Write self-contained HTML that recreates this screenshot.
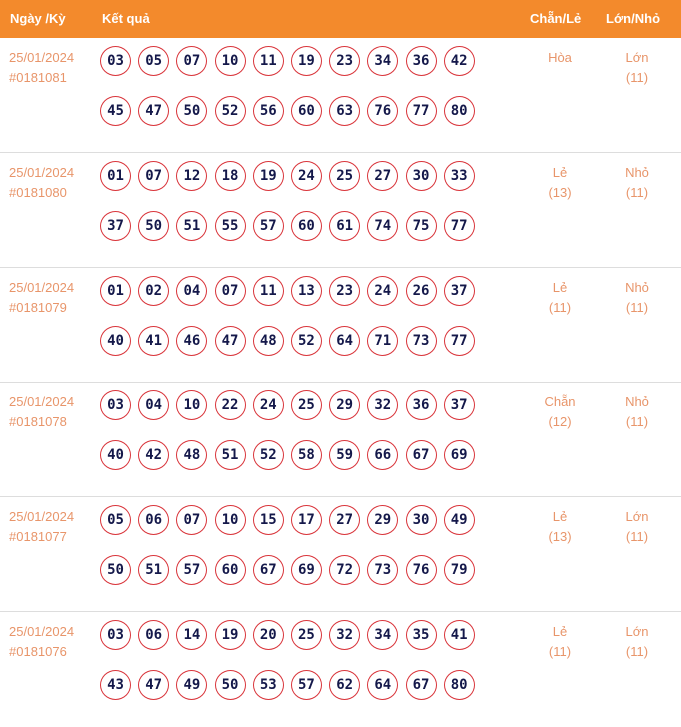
<!DOCTYPE html>
<html><head><meta charset="utf-8"><style>
*{margin:0;padding:0;box-sizing:border-box}
body{width:681px;height:716px;background:#fff;font-family:"Liberation Sans",sans-serif;position:relative;overflow:hidden}
.hd{position:absolute;left:0;top:0;width:681px;height:38px;background:#f38a2c;color:#fff;font-weight:bold;font-size:13px}
.hd span{position:absolute;top:11px}
.sec{position:absolute;left:0;width:681px;height:115px;border-bottom:1px solid #ddd}
.dt{position:absolute;left:9px;top:10px;color:#e8956a;font-size:13px;line-height:20px}
.rw{position:absolute;left:100px;display:flex}
.r1{top:8px}.r2{top:58px}
.b{width:31px;height:30px;border:1.3px solid #d9343a;border-radius:50%;margin-right:7.2px;display:flex;align-items:center;justify-content:center;font-family:"DejaVu Sans Mono","Liberation Mono",monospace;font-weight:bold;font-size:14px;color:#14184a}
.c{position:absolute;top:10px;width:80px;text-align:center;color:#e8956a;font-size:13px;line-height:20px}
.c1{left:520px}.c2{left:597px}
</style></head><body>
<div class="hd"><span style="left:10px">Ngày /Kỳ</span><span style="left:102px">Kết quả</span><span style="left:530px">Chẵn/Lẻ</span><span style="left:606px">Lớn/Nhỏ</span></div>

<div class="sec" style="top:38px"><div class="dt">25/01/2024<br>#0181081</div>
<div class="rw r1"><div class="b">03</div><div class="b">05</div><div class="b">07</div><div class="b">10</div><div class="b">11</div><div class="b">19</div><div class="b">23</div><div class="b">34</div><div class="b">36</div><div class="b">42</div></div>
<div class="rw r2"><div class="b">45</div><div class="b">47</div><div class="b">50</div><div class="b">52</div><div class="b">56</div><div class="b">60</div><div class="b">63</div><div class="b">76</div><div class="b">77</div><div class="b">80</div></div>
<div class="c c1">Hòa</div><div class="c c2">Lớn<br>(11)</div></div>

<div class="sec" style="top:153px"><div class="dt">25/01/2024<br>#0181080</div>
<div class="rw r1"><div class="b">01</div><div class="b">07</div><div class="b">12</div><div class="b">18</div><div class="b">19</div><div class="b">24</div><div class="b">25</div><div class="b">27</div><div class="b">30</div><div class="b">33</div></div>
<div class="rw r2"><div class="b">37</div><div class="b">50</div><div class="b">51</div><div class="b">55</div><div class="b">57</div><div class="b">60</div><div class="b">61</div><div class="b">74</div><div class="b">75</div><div class="b">77</div></div>
<div class="c c1">Lẻ<br>(13)</div><div class="c c2">Nhỏ<br>(11)</div></div>

<div class="sec" style="top:268px"><div class="dt">25/01/2024<br>#0181079</div>
<div class="rw r1"><div class="b">01</div><div class="b">02</div><div class="b">04</div><div class="b">07</div><div class="b">11</div><div class="b">13</div><div class="b">23</div><div class="b">24</div><div class="b">26</div><div class="b">37</div></div>
<div class="rw r2"><div class="b">40</div><div class="b">41</div><div class="b">46</div><div class="b">47</div><div class="b">48</div><div class="b">52</div><div class="b">64</div><div class="b">71</div><div class="b">73</div><div class="b">77</div></div>
<div class="c c1">Lẻ<br>(11)</div><div class="c c2">Nhỏ<br>(11)</div></div>

<div class="sec" style="top:382px"><div class="dt">25/01/2024<br>#0181078</div>
<div class="rw r1"><div class="b">03</div><div class="b">04</div><div class="b">10</div><div class="b">22</div><div class="b">24</div><div class="b">25</div><div class="b">29</div><div class="b">32</div><div class="b">36</div><div class="b">37</div></div>
<div class="rw r2"><div class="b">40</div><div class="b">42</div><div class="b">48</div><div class="b">51</div><div class="b">52</div><div class="b">58</div><div class="b">59</div><div class="b">66</div><div class="b">67</div><div class="b">69</div></div>
<div class="c c1">Chẵn<br>(12)</div><div class="c c2">Nhỏ<br>(11)</div></div>

<div class="sec" style="top:497px"><div class="dt">25/01/2024<br>#0181077</div>
<div class="rw r1"><div class="b">05</div><div class="b">06</div><div class="b">07</div><div class="b">10</div><div class="b">15</div><div class="b">17</div><div class="b">27</div><div class="b">29</div><div class="b">30</div><div class="b">49</div></div>
<div class="rw r2"><div class="b">50</div><div class="b">51</div><div class="b">57</div><div class="b">60</div><div class="b">67</div><div class="b">69</div><div class="b">72</div><div class="b">73</div><div class="b">76</div><div class="b">79</div></div>
<div class="c c1">Lẻ<br>(13)</div><div class="c c2">Lớn<br>(11)</div></div>

<div class="sec" style="top:612px;border-bottom:none"><div class="dt">25/01/2024<br>#0181076</div>
<div class="rw r1"><div class="b">03</div><div class="b">06</div><div class="b">14</div><div class="b">19</div><div class="b">20</div><div class="b">25</div><div class="b">32</div><div class="b">34</div><div class="b">35</div><div class="b">41</div></div>
<div class="rw r2"><div class="b">43</div><div class="b">47</div><div class="b">49</div><div class="b">50</div><div class="b">53</div><div class="b">57</div><div class="b">62</div><div class="b">64</div><div class="b">67</div><div class="b">80</div></div>
<div class="c c1">Lẻ<br>(11)</div><div class="c c2">Lớn<br>(11)</div></div>
</body></html>
